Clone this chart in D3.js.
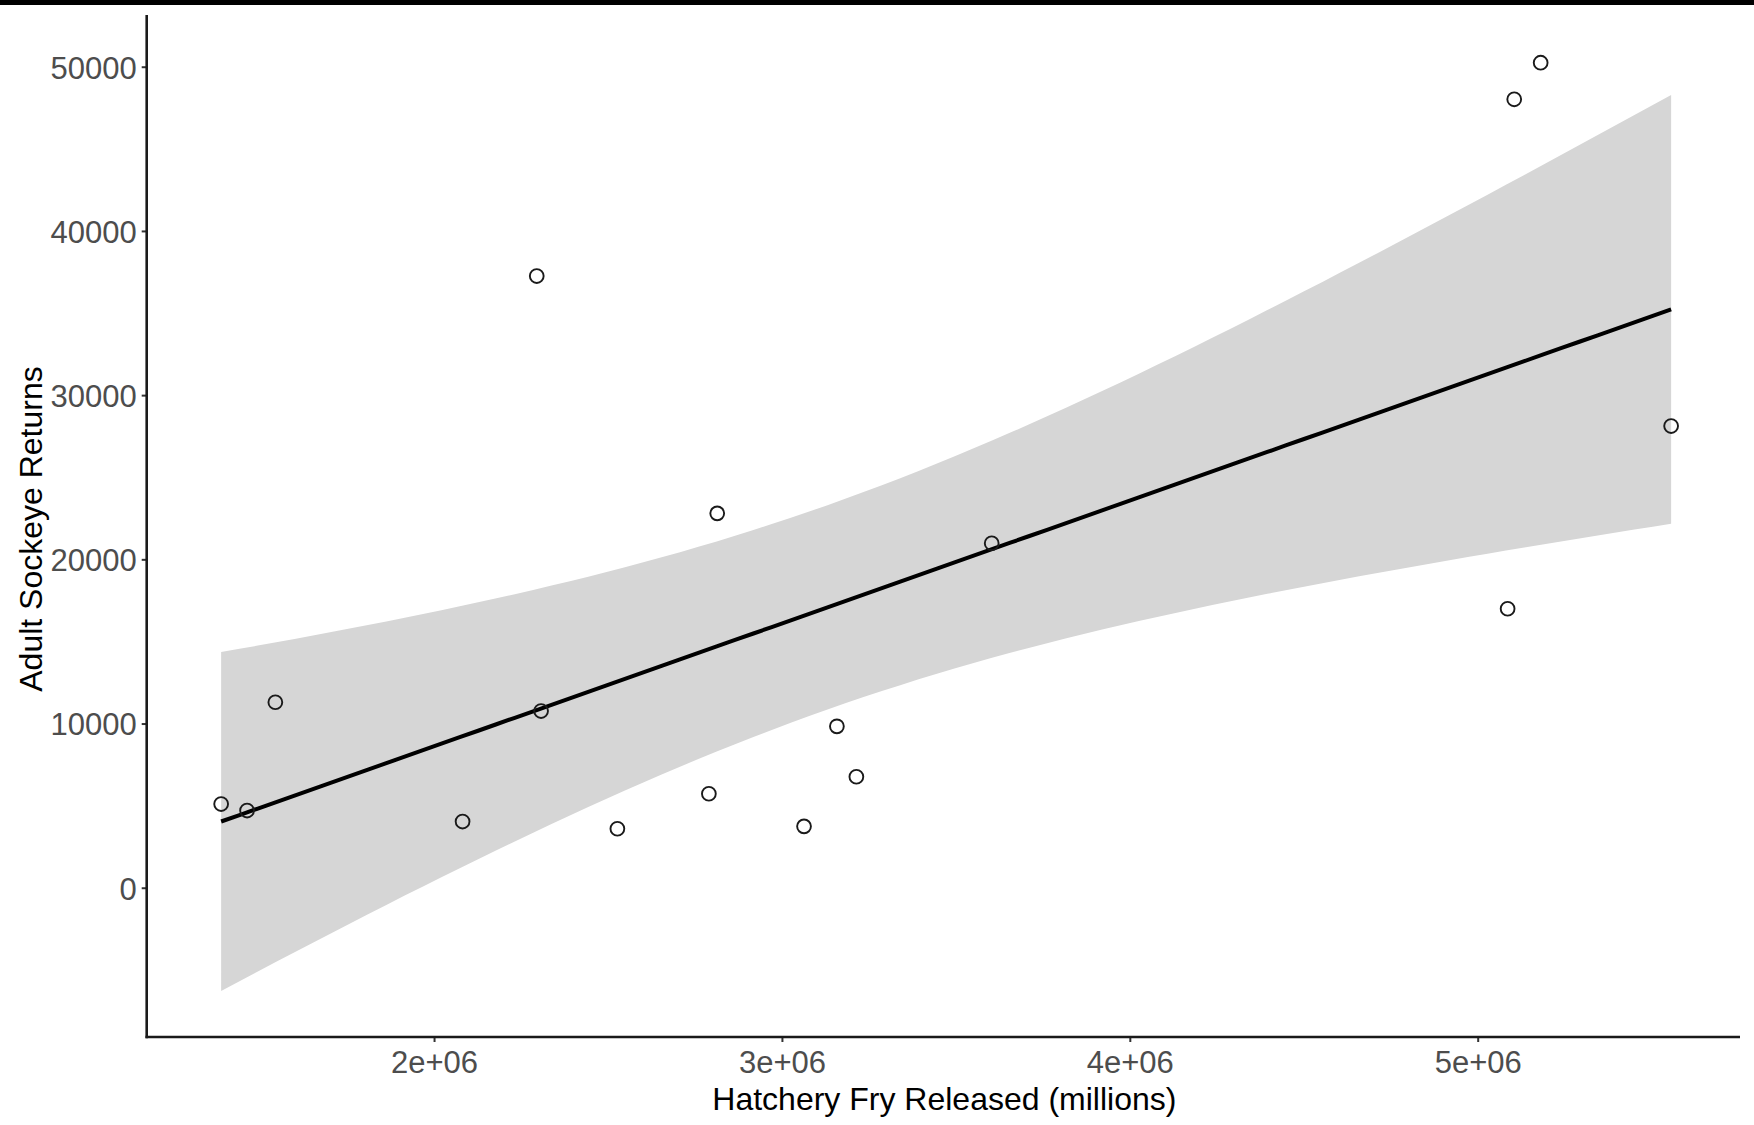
<!DOCTYPE html>
<html>
<head>
<meta charset="utf-8">
<script src="https://cdn.jsdelivr.net/npm/d3@7"></script>
<style>
  html, body { margin: 0; padding: 0; background: #fff; }
  svg { display: block; }
</style>
</head>
<body>
<div id="chart"></div>
<script>
// hatchery fry released vs adult sockeye returns
var fryReleased = [1388000, 1462500, 1543800, 2082000, 2295200, 2307600, 2527000, 2790000,
                   2814000, 3063500, 3158000, 3214000, 3603000, 5086000, 5105000, 5181000, 5556000];
var adultReturns = [5097, 4702, 11297, 4032, 37253, 10761, 3593, 5725,
                    22801, 3739, 9830, 6760, 20980, 16991, 48015, 50244, 28118];

var xTicks = [2e6, 3e6, 4e6, 5e6];
var xTickLabels = ["2e+06", "3e+06", "4e+06", "5e+06"];
var yTicks = [0, 10000, 20000, 30000, 40000, 50000];
var yTickLabels = ["0", "10000", "20000", "30000", "40000", "50000"];

var xTitle = "Hatchery Fry Released (millions)";
var yTitle = "Adult Sockeye Returns";

var width = 1754, height = 1125;
var panel = { left: 146.7, right: 1740, top: 15, bottom: 1037 };

var svg = d3.select("#chart")
    .append("svg")
    .attr("width", width)
    .attr("height", height);

svg.append("rect").attr("x", 0).attr("y", 0)
    .attr("width", width).attr("height", height).attr("fill", "#fff");
// dark strip along the top of the screenshot
svg.append("rect").attr("x", 0).attr("y", 0)
    .attr("width", width).attr("height", 5).attr("fill", "#000");

var xScale = d3.scaleLinear()
    .domain([1174000, 5754000])
    .range([panel.left, panel.right]);
var yScale = d3.scaleLinear()
    .domain([-9090, 53150])
    .range([panel.bottom, panel.top]);

// linear model fit, like geom_smooth(method = "lm")
var n = fryReleased.length;
var mx = d3.mean(fryReleased), my = d3.mean(adultReturns);
var sxx = 0, sxy = 0;
for (var i = 0; i < n; i++) {
    sxx += (fryReleased[i] - mx) * (fryReleased[i] - mx);
    sxy += (fryReleased[i] - mx) * (adultReturns[i] - my);
}
var slope = sxy / sxx;
var intercept = my - slope * mx;
var sse = 0;
for (var i = 0; i < n; i++) {
    var r = adultReturns[i] - (intercept + slope * fryReleased[i]);
    sse += r * r;
}
var se = Math.sqrt(sse / (n - 2));
var tCrit = 2.13145; // qt(0.975, 15)

var xMin = d3.min(fryReleased), xMax = d3.max(fryReleased);
var fit = [];
for (var k = 0; k < 80; k++) {
    var xv = xMin + (xMax - xMin) * k / 79;
    var yv = intercept + slope * xv;
    var hw = tCrit * se * Math.sqrt(1 / n + (xv - mx) * (xv - mx) / sxx);
    fit.push({ x: xv, y: yv, lo: yv - hw, hi: yv + hw });
}

svg.append("path")
    .datum(fit)
    .attr("fill", "#d6d6d6")
    .attr("d", d3.area()
        .x(function(d) { return xScale(d.x); })
        .y0(function(d) { return yScale(d.lo); })
        .y1(function(d) { return yScale(d.hi); }));

svg.append("path")
    .datum(fit)
    .attr("fill", "none")
    .attr("stroke", "#000")
    .attr("stroke-width", 4)
    .attr("d", d3.line()
        .x(function(d) { return xScale(d.x); })
        .y(function(d) { return yScale(d.y); }));

svg.append("g").selectAll("circle")
    .data(fryReleased)
    .enter()
    .append("circle")
    .attr("cx", function(d) { return xScale(d); })
    .attr("cy", function(d, i) { return yScale(adultReturns[i]); })
    .attr("r", 6.9)
    .attr("fill", "none")
    .attr("stroke", "#1a1a1a")
    .attr("stroke-width", 1.9);

// axes
var xAxis = d3.axisBottom(xScale)
    .tickValues(xTicks)
    .tickFormat(function(d, i) { return xTickLabels[i]; })
    .tickSize(5)
    .tickSizeOuter(0)
    .tickPadding(8);
var yAxis = d3.axisLeft(yScale)
    .tickValues(yTicks)
    .tickFormat(function(d, i) { return yTickLabels[i]; })
    .tickSize(5)
    .tickSizeOuter(0)
    .tickPadding(6);

var gx = svg.append("g")
    .attr("transform", "translate(0," + panel.bottom + ")")
    .call(xAxis);
var gy = svg.append("g")
    .attr("transform", "translate(" + panel.left + ",0)")
    .call(yAxis);

[gx, gy].forEach(function(g) {
    g.select(".domain").remove();
    g.selectAll(".tick line").attr("stroke", "#333").attr("stroke-width", 2);
    g.selectAll(".tick text")
        .attr("fill", "#4d4d4d")
        .style("font-family", "'Liberation Sans', Arial, sans-serif")
        .style("font-size", "31px");
});
gx.selectAll(".tick text").attr("dy", null).attr("y", 35.5);
gy.selectAll(".tick text").attr("dy", null).attr("y", 11.3).attr("x", -10);

svg.append("line")
    .attr("x1", panel.left).attr("x2", panel.left)
    .attr("y1", panel.top).attr("y2", panel.bottom + 1.2)
    .attr("stroke", "#1a1a1a").attr("stroke-width", 2.6);
svg.append("line")
    .attr("x1", panel.left - 1.2).attr("x2", panel.right)
    .attr("y1", panel.bottom).attr("y2", panel.bottom)
    .attr("stroke", "#1a1a1a").attr("stroke-width", 2.6);

svg.append("text")
    .attr("x", (panel.left + panel.right) / 2 + 1)
    .attr("y", 1110)
    .attr("text-anchor", "middle")
    .attr("fill", "#000")
    .style("font-family", "'Liberation Sans', Arial, sans-serif")
    .style("font-size", "32px")
    .text(xTitle);

svg.append("text")
    .attr("transform", "translate(42," + ((panel.top + panel.bottom) / 2 + 3) + ") rotate(-90)")
    .attr("text-anchor", "middle")
    .attr("fill", "#000")
    .style("font-family", "'Liberation Sans', Arial, sans-serif")
    .style("font-size", "32px")
    .text(yTitle);
</script>
</body>
</html>
